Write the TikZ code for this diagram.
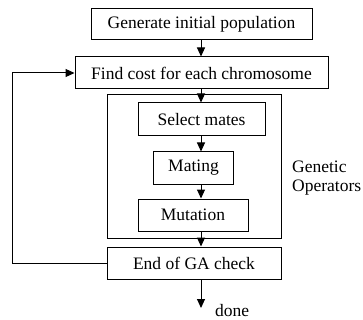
\documentclass[tikz,border=0pt]{standalone}
\usepackage{fontspec}
\setmainfont{Liberation Serif}
\usetikzlibrary{arrows.meta}
\begin{document}
\begin{tikzpicture}[x=1pt,y=-1pt,
  box/.style={draw,line width=1pt,inner sep=0pt,font=\fontsize{17.5}{20}\selectfont},
  conn/.style={line width=1pt,-{Triangle[length=9pt,width=8pt]}},
  lbl/.style={inner sep=0pt,font=\fontsize{17.5}{20}\selectfont}]
\useasboundingbox (0,0) rectangle (363,320);
\node[box,minimum width=221pt,minimum height=31pt] (gen) at (201.5,24.5) {Generate initial population};
\node[box,minimum width=253pt,minimum height=32pt] (find) at (201.5,73) {Find cost for each chromosome};
\node[draw,line width=1pt,inner sep=0pt,minimum width=174pt,minimum height=143pt] (ops) at (194,166.5) {};
\node[box,minimum width=127pt,minimum height=33pt] (sel) at (201.5,119.5) {Select mates};
\node[box,minimum width=80pt,minimum height=32pt] (mat) at (193.5,168) {Mating};
\node[box,minimum width=110pt,minimum height=32pt] (mut) at (193,215) {Mutation};
\node[box,minimum width=174pt,minimum height=32pt] (endc) at (194,263) {End of GA check};
\node[lbl,anchor=west,align=left] (gop) at (292,178) {Genetic\\[-1.5pt]Operators};
\node[lbl,anchor=base west] (done) at (215,316.5) {done};
\coordinate (ax) at (201,0);
\coordinate (lx) at (12,0);
\coordinate (dn) at (201,308);
\draw[conn] (gen.south -| ax) -- (find.north -| ax);
\draw[conn] (find.south -| ax) -- (sel.north -| ax);
\draw[conn] (sel.south -| ax) -- (mat.north -| ax);
\draw[conn] (mat.south -| ax) -- (mut.north -| ax);
\draw[conn] (mut.south -| ax) -- (endc.north -| ax);
\draw[conn] (endc.south -| ax) -- (dn);
\draw[conn] (endc.west) -- (endc.west -| lx) -- (find.west -| lx) -- (find.west);
\end{tikzpicture}
\end{document}
